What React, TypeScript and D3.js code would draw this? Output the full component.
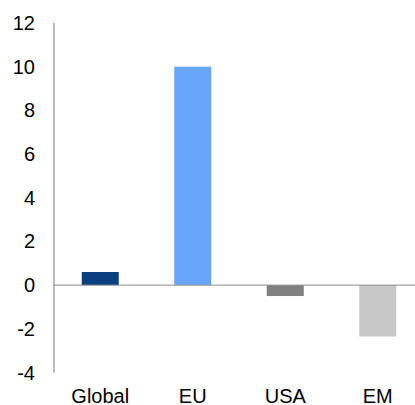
import React from "react";
import * as d3 from "d3";

const categories = ["Global", "EU", "USA", "EM"];
const values = [0.6, 10, -0.5, -2.35];
const colors = ["#0a3f80", "#68a6fb", "#808080", "#c8c8c8"];
const yTicks = [-4, -2, 0, 2, 4, 6, 8, 10, 12];

export default function App() {
  const W = 415, H = 405;
  const y = d3.scaleLinear().domain([-4, 12]).range([372.5, 23]);
  const x = d3.scaleBand().domain(categories).range([54, 424]).paddingInner(0.6).paddingOuter(0.3);
  const font = "'Liberation Sans', Arial, sans-serif";
  return (
    <svg width={W} height={H} style={{ position: "absolute", left: 0, top: 0 }}>
      <rect width={W} height={H} fill="#fff" />
      {categories.map((c, i) => {
        const v = values[i];
        const y0 = y(0), y1 = y(v);
        return (
          <rect key={c} x={x(c)} width={x.bandwidth()} y={Math.min(y0, y1)} height={Math.abs(y1 - y0)} fill={colors[i]} />
        );
      })}
      <line x1={54} x2={W} y1={y(0)} y2={y(0)} stroke="#8c8c8c" strokeWidth={1} />
      <line x1={54} x2={54} y1={y(12)} y2={y(-4)} stroke="#8c8c8c" strokeWidth={1.2} />
      {yTicks.map((t) => (
        <text key={t} x={35} y={y(t)} dy="0.35em" textAnchor="end" fontFamily={font} fontSize={20} fill="#000">
          {t}
        </text>
      ))}
      {categories.map((c) => (
        <text key={c} x={(x(c) as number) + x.bandwidth() / 2} y={403} textAnchor="middle" fontFamily={font} fontSize={20} fill="#000">
          {c}
        </text>
      ))}
    </svg>
  );
}
